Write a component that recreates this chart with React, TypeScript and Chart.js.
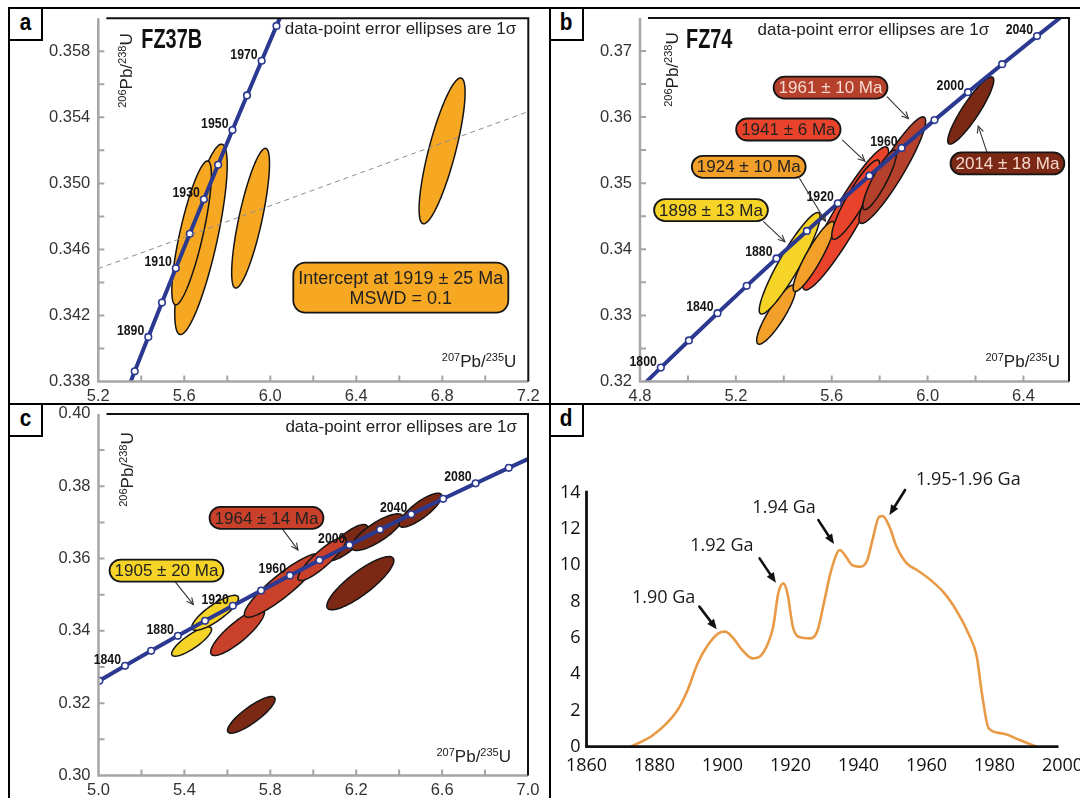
import React, { useEffect, useRef } from "react";
import { Chart, registerables } from "chart.js";
Chart.register(...registerables);

/* ================= DATA ================= */
/* Panel a – FZ37B : concordia markers (every 10 Ma) */
const concA_age = [1870, 1880, 1890, 1900, 1910, 1920, 1930, 1940, 1950, 1960, 1970, 1980, 1990];
const concA_x = [5.3071, 5.3695, 5.4325, 5.4962, 5.5605, 5.6254, 5.691, 5.7572, 5.8241, 5.8916, 5.9598, 6.0287, 6.0983];
const concA_y = [0.33654, 0.33862, 0.3407, 0.34278, 0.34486, 0.34695, 0.34904, 0.35113, 0.35323, 0.35533, 0.35743, 0.35954, 0.36165];
const concA_lab = [1890, 1910, 1930, 1950, 1970];
/* error ellipses: centre, 1σ x, 1σ y, correlation */
const ellA_cx = [5.6776, 5.634, 5.9083, 6.799];
const ellA_cy = [0.34661, 0.347, 0.34789, 0.35197];
const ellA_sx = [0.122, 0.092, 0.088, 0.107];
const ellA_sy = [0.005767, 0.00436, 0.004234, 0.004416];
const ellA_rho = [0.78, 0.8, 0.78, 0.8];
const ellA_g = ["or", "or", "or", "or"];
const discA_x = [5.2, 7.2];
const discA_y = [0.34484, 0.35435];
const aXTicks = [5.2, 5.4, 5.6, 5.8, 6.0, 6.2, 6.4, 6.6, 6.8, 7.0, 7.2];
const aXMajor = [5.2, 5.6, 6.0, 6.4, 6.8, 7.2];
const aYTicks = [0.338, 0.34, 0.342, 0.344, 0.346, 0.348, 0.35, 0.352, 0.354, 0.356, 0.358, 0.36];
const aYMajor = [0.338, 0.342, 0.346, 0.35, 0.354, 0.358];

/* Panel b – FZ74 : concordia markers (every 20 Ma) */
const concB_age = [1780, 1800, 1820, 1840, 1860, 1880, 1900, 1920, 1940, 1960, 1980, 2000, 2020, 2040, 2060];
const concB_x = [4.7721, 4.8869, 5.004, 5.1234, 5.2452, 5.3695, 5.4962, 5.6254, 5.7572, 5.8916, 6.0287, 6.1685, 6.3111, 6.4565, 6.6049];
const concB_y = [0.31801, 0.32211, 0.32621, 0.33033, 0.33447, 0.33862, 0.34278, 0.34695, 0.35113, 0.35533, 0.35954, 0.36377, 0.368, 0.37225, 0.37652];
const concB_lab = [1800, 1840, 1880, 1920, 1960, 2000, 2040];
const ellB_cx = [5.3685, 5.4244, 5.658, 5.525, 5.7, 5.853, 5.8, 6.18];
const ellB_cy = [0.33012, 0.33788, 0.34467, 0.3389, 0.3475, 0.35197, 0.3505, 0.36099];
const ellB_sx = [0.0817, 0.1269, 0.179, 0.086, 0.1, 0.139, 0.07, 0.096];
const ellB_sy = [0.00448, 0.00768, 0.01083, 0.00529, 0.006, 0.00806, 0.0045, 0.005085];
const ellB_rho = [0.87, 0.92, 0.93, 0.9, 0.9, 0.92, 0.88, 0.9];
const ellB_g = ["ob", "ye", "rd", "ob", "rd", "dr", "dr", "br"];
const bXTicks = [4.8, 5.0, 5.2, 5.4, 5.6, 5.8, 6.0, 6.2, 6.4];
const bXMajor = [4.8, 5.2, 5.6, 6.0, 6.4];
const bYTicks = [0.32, 0.325, 0.33, 0.335, 0.34, 0.345, 0.35, 0.355, 0.36, 0.365, 0.37, 0.375];
const bYMajor = [0.32, 0.33, 0.34, 0.35, 0.36, 0.37];

/* Panel c : concordia markers (every 20 Ma) */
const concC_age = [1800, 1820, 1840, 1860, 1880, 1900, 1920, 1940, 1960, 1980, 2000, 2020, 2040, 2060, 2080, 2100, 2120];
const concC_x = [4.8869, 5.004, 5.1234, 5.2452, 5.3695, 5.4962, 5.6254, 5.7572, 5.8916, 6.0287, 6.1685, 6.3111, 6.4565, 6.6049, 6.7561, 6.9104, 7.0677];
const concC_y = [0.32211, 0.32621, 0.33033, 0.33447, 0.33862, 0.34278, 0.34695, 0.35113, 0.35533, 0.35954, 0.36377, 0.368, 0.37225, 0.37652, 0.3808, 0.38509, 0.38939];
const concC_lab = [1840, 1880, 1920, 1960, 2000, 2040, 2080];
const ellC_cx = [6.158, 6.298, 6.4988, 6.2193, 5.7116, 5.4337, 5.543, 5.6474, 5.8562, 6.041];
const ellC_cy = [0.36442, 0.3673, 0.37337, 0.35318, 0.31677, 0.33705, 0.34498, 0.33963, 0.35254, 0.35991];
const ellC_sx = [0.0964, 0.12, 0.0996, 0.156, 0.1108, 0.093, 0.109, 0.1253, 0.1767, 0.112];
const ellC_sy = [0.00498, 0.00507, 0.0047, 0.00737, 0.00507, 0.00406, 0.00484, 0.00645, 0.00876, 0.006];
const ellC_rho = [0.8, 0.8, 0.82, 0.85, 0.85, 0.83, 0.83, 0.85, 0.9, 0.88];
const ellC_g = ["br", "br", "br", "br", "br", "ye", "ye", "rc", "rc", "rc"];
const cXTicks = [5.0, 5.2, 5.4, 5.6, 5.8, 6.0, 6.2, 6.4, 6.6, 6.8, 7.0];
const cXMajor = [5.0, 5.4, 5.8, 6.2, 6.6, 7.0];
const cYTicks = [0.3, 0.31, 0.32, 0.33, 0.34, 0.35, 0.36, 0.37, 0.38, 0.39, 0.4];
const cYMajor = [0.3, 0.32, 0.34, 0.36, 0.38, 0.4];

/* Panel d : probability density curve */
const dYears = [1873, 1879.6, 1886.7, 1889.7, 1892.7, 1895.7, 1898.8, 1900.8, 1902.8, 1905.8, 1908.8, 1910.9, 1913.4, 1914.9, 1916.4, 1917.9, 1919.1, 1920.7, 1922.4, 1926.0, 1928.0, 1930.0, 1932.0, 1934.5, 1936.0, 1938.1, 1940.6, 1942.6, 1944.1, 1946.1, 1947.1, 1949.1, 1951.2, 1954.2, 1957.2, 1961.2, 1965.3, 1969.3, 1972.3, 1974.8, 1976.3, 1978.3, 1982.4, 1987.4, 1992.4];
const dVals = [0, 0.64, 2.0, 3.1, 4.6, 5.6, 6.25, 6.34, 6.06, 5.33, 4.87, 4.96, 5.7, 6.6, 8.45, 9.0, 8.45, 6.6, 6.06, 5.97, 6.43, 8.08, 9.74, 10.84, 10.56, 10.01, 9.92, 10.29, 11.39, 12.68, 12.71, 12.13, 11.02, 10.1, 9.74, 9.19, 8.45, 7.35, 6.25, 4.96, 2.94, 1.01, 0.73, 0.37, 0];
const dXTicks = [1860, 1880, 1900, 1920, 1940, 1960, 1980, 2000];
const dYTicks = [0, 2, 4, 6, 8, 10, 12, 14];

/* ================= ANNOTATIONS (data-space anchors) ================= */
const bCallouts = [
  { text: "1961 ± 10 Ma", g: "dr", x: 5.595, y: 0.36446, ax: 5.8315, ay: 0.36305, bx: 5.92, by: 0.35978 },
  { text: "1941 ± 6 Ma", g: "rd", x: 5.419, y: 0.35812, ax: 5.645, ay: 0.3565, bx: 5.738, by: 0.35333 },
  { text: "1924 ± 10 Ma", g: "ob", x: 5.2537, y: 0.35248, ax: 5.466, ay: 0.35071, bx: 5.5735, by: 0.34427 },
  { text: "1898 ± 13 Ma", g: "ye", x: 5.0962, y: 0.34593, ax: 5.3154, ay: 0.34417, bx: 5.4043, by: 0.34115 },
  { text: "2014 ± 18 Ma", g: "br", x: 6.3331, y: 0.35298, ax: 6.2472, ay: 0.35474, bx: 6.2113, by: 0.35862 },
];
const cCallouts = [
  { text: "1905 ± 20 Ma", g: "ye", x: 5.3165, y: 0.35668, ax: 5.3582, ay: 0.35346, bx: 5.4418, by: 0.34728 },
  { text: "1964 ± 14 Ma", g: "rc", x: 5.7823, y: 0.37124, ax: 5.8562, ay: 0.3682, bx: 5.9285, by: 0.3624 },
];
const dNotes = [
  { text: "1.90 Ga", x: 1882.7, y: 8.18, ax: 1893.2, ay: 7.72, bx: 1898.3, by: 6.47 },
  { text: "1.92 Ga", x: 1899.8, y: 11.06, ax: 1910.9, ay: 10.38, bx: 1915.7, by: 9.04 },
  { text: "1.94 Ga", x: 1918.1, y: 13.14, ax: 1928.2, ay: 12.49, bx: 1932.8, by: 11.17 },
  { text: "1.95-1.96 Ga", x: 1972.3, y: 14.7, ax: 1953.7, ay: 14.15, bx: 1949.1, by: 12.77 },
];

/* ================= STYLE ================= */
const SANS = '"Liberation Sans", Arial, sans-serif';
const BLUE = "#2b3990";
const FILL: any = { or: "#f7a823", ye: "#f5d327", ob: "#f2a02a", rd: "#e9442b", dr: "#b5402c", br: "#7b2914", rc: "#c9412b" };
const LIGHT_TXT: any = { dr: "#f7d9cf", br: "#f7d9cf" };

/* ================= DRAW HELPERS ================= */
function condText(ctx: any, text: string, x: number, y: number, font: string, sx: number, align: string, color: string) {
  ctx.save();
  ctx.font = font;
  const w = ctx.measureText(text).width * sx;
  const x0 = align === "right" ? x - w : align === "center" ? x - w / 2 : x;
  ctx.translate(x0, y);
  ctx.scale(sx, 1);
  ctx.textAlign = "left";
  ctx.textBaseline = "alphabetic";
  ctx.fillStyle = color;
  ctx.fillText(text, 0, 0);
  ctx.restore();
}

function ratioTitle(ctx: any, s1: string, s2: string, x: number, y: number, vertical: boolean) {
  const main = `17px ${SANS}`;
  const sup = `11px ${SANS}`;
  const parts: any[] = [[s1, 1], ["Pb", 0], ["/", 0], [s2, 1], ["U", 0]];
  ctx.save();
  let w = 0;
  parts.forEach(([t, s]) => { ctx.font = s ? sup : main; w += ctx.measureText(t).width; });
  ctx.translate(x, y);
  if (vertical) ctx.rotate(-Math.PI / 2);
  ctx.fillStyle = "#222";
  ctx.textAlign = "left";
  ctx.textBaseline = "alphabetic";
  let cx = -w;
  parts.forEach(([t, s]) => {
    ctx.font = s ? sup : main;
    ctx.fillText(t, cx, s ? -6 : 0);
    cx += ctx.measureText(t).width;
  });
  ctx.restore();
}

function roundRect(ctx: any, x: number, y: number, w: number, h: number, r: number) {
  ctx.beginPath();
  ctx.moveTo(x + r, y);
  ctx.lineTo(x + w - r, y);
  ctx.arc(x + w - r, y + r, r, -Math.PI / 2, 0);
  ctx.lineTo(x + w, y + h - r);
  ctx.arc(x + w - r, y + h - r, r, 0, Math.PI / 2);
  ctx.lineTo(x + r, y + h);
  ctx.arc(x + r, y + h - r, r, Math.PI / 2, Math.PI);
  ctx.lineTo(x, y + r);
  ctx.arc(x + r, y + r, r, Math.PI, Math.PI * 1.5);
  ctx.closePath();
}

function pill(ctx: any, x: number, y: number, lines: string[], fill: string, color: string, font: string, padX: number, h: number, r: number, lh: number) {
  ctx.save();
  ctx.font = font;
  const w = Math.max(...lines.map((l) => ctx.measureText(l).width)) + padX * 2;
  roundRect(ctx, x - w / 2, y - h / 2, w, h, r);
  ctx.fillStyle = fill;
  ctx.fill();
  ctx.lineWidth = 1.8;
  ctx.strokeStyle = "#151515";
  ctx.stroke();
  ctx.fillStyle = color;
  ctx.textAlign = "center";
  ctx.textBaseline = "middle";
  const y0 = y - ((lines.length - 1) * lh) / 2;
  lines.forEach((l, i) => ctx.fillText(l, x, y0 + i * lh + 1));
  ctx.restore();
}

function arrow(ctx: any, x1: number, y1: number, x2: number, y2: number, color: string, width: number, head: number, filled: boolean) {
  const a = Math.atan2(y2 - y1, x2 - x1);
  ctx.save();
  ctx.strokeStyle = color;
  ctx.fillStyle = color;
  ctx.lineWidth = width;
  ctx.lineCap = "round";
  if (filled) {
    const bx = x2 - head * Math.cos(a);
    const by = y2 - head * Math.sin(a);
    ctx.beginPath(); ctx.moveTo(x1, y1); ctx.lineTo(bx, by); ctx.stroke();
    const hw = head * 0.42;
    ctx.beginPath();
    ctx.moveTo(x2, y2);
    ctx.lineTo(bx + hw * Math.sin(a), by - hw * Math.cos(a));
    ctx.lineTo(bx - hw * Math.sin(a), by + hw * Math.cos(a));
    ctx.closePath();
    ctx.fill();
  } else {
    ctx.beginPath(); ctx.moveTo(x1, y1); ctx.lineTo(x2, y2); ctx.stroke();
    ctx.beginPath();
    ctx.moveTo(x2 - head * Math.cos(a - 0.45), y2 - head * Math.sin(a - 0.45));
    ctx.lineTo(x2, y2);
    ctx.lineTo(x2 - head * Math.cos(a + 0.45), y2 - head * Math.sin(a + 0.45));
    ctx.stroke();
  }
  ctx.restore();
}

function isMajor(v: number, majors: number[]) {
  return majors.some((m) => Math.abs(m - v) < 1e-9);
}

/* ================= ISOPLOT CONCORDIA PANELS ================= */
function isoConfig(s: any) {
  const { cell, area } = s;
  const datasets: any[] = [];
  if (s.disc) {
    datasets.push({
      data: s.disc.x.map((x: number, i: number) => ({ x, y: s.disc.y[i] })),
      borderColor: "#8b8b9e", borderWidth: 1, borderDash: [5, 4], pointRadius: 0, tension: 0,
    });
  }
  datasets.push({
    data: s.conc.x.map((x: number, i: number) => ({ x, y: s.conc.y[i] })),
    borderColor: BLUE, borderWidth: 4, tension: 0,
    pointRadius: 3.3, pointBackgroundColor: "#ffffff", pointBorderColor: BLUE, pointBorderWidth: 1.6,
  });

  const plugin = {
    id: "iso",
    beforeDatasetsDraw(chart: any) {
      const { ctx, chartArea: ca } = chart;
      const xs = chart.scales.x, ys = chart.scales.y;
      ctx.save();
      ctx.beginPath();
      ctx.rect(ca.left, ca.top, ca.right - ca.left, ca.bottom - ca.top);
      ctx.clip();
      s.ell.cx.forEach((cx: number, i: number) => {
        const cy = s.ell.cy[i], sx = s.ell.sx[i], sy = s.ell.sy[i], rho = s.ell.rho[i];
        const k = Math.sqrt(1 - rho * rho);
        ctx.beginPath();
        for (let j = 0; j <= 90; j++) {
          const t = (j / 90) * Math.PI * 2;
          const X = xs.getPixelForValue(cx + sx * Math.cos(t));
          const Y = ys.getPixelForValue(cy + sy * (rho * Math.cos(t) + k * Math.sin(t)));
          if (j === 0) ctx.moveTo(X, Y); else ctx.lineTo(X, Y);
        }
        ctx.closePath();
        ctx.fillStyle = FILL[s.ell.g[i]];
        ctx.fill();
        ctx.lineWidth = 1.5;
        ctx.strokeStyle = "#141414";
        ctx.stroke();
      });
      ctx.restore();
    },
    afterDatasetsDraw(chart: any) {
      const { ctx, chartArea: ca } = chart;
      const xs = chart.scales.x, ys = chart.scales.y;
      // frame
      ctx.save();
      ctx.lineCap = "butt";
      ctx.strokeStyle = "#a5a5a5";
      ctx.lineWidth = 2.5;
      ctx.beginPath();
      ctx.moveTo(ca.left, ca.top);
      ctx.lineTo(ca.left, ca.bottom);
      ctx.lineTo(ca.right, ca.bottom);
      ctx.stroke();
      ctx.lineWidth = 2;
      ctx.beginPath();
      xs.ticks.forEach((t: any) => {
        const p = xs.getPixelForValue(t.value);
        if (p < ca.left + 2 || p > ca.right - 2) return;
        ctx.moveTo(p, ca.bottom);
        ctx.lineTo(p, ca.bottom - 6);
      });
      ys.ticks.forEach((t: any) => {
        const p = ys.getPixelForValue(t.value);
        if (p < ca.top + 2 || p > ca.bottom - 2) return;
        ctx.moveTo(ca.left, p);
        ctx.lineTo(ca.left + 6, p);
      });
      ctx.stroke();
      ctx.strokeStyle = "#111";
      ctx.lineWidth = 2;
      ctx.beginPath();
      ctx.moveTo(ca.left + 8, ca.top);
      ctx.lineTo(ca.right, ca.top);
      ctx.lineTo(ca.right, ca.bottom);
      ctx.stroke();
      ctx.restore();

      // concordia age labels
      s.conc.lab.forEach((age: number) => {
        const i = s.conc.age.indexOf(age);
        const mx = xs.getPixelForValue(s.conc.x[i]);
        const my = ys.getPixelForValue(s.conc.y[i]);
        condText(ctx, String(age), mx - 4, my - 2, `bold 15px ${SANS}`, 0.82, "right", "#151515");
      });

      // callouts
      (s.callouts || []).forEach((c: any) => {
        arrow(ctx, xs.getPixelForValue(c.ax), ys.getPixelForValue(c.ay), xs.getPixelForValue(c.bx), ys.getPixelForValue(c.by), "#333", 1.1, 7, false);
      });
      (s.callouts || []).forEach((c: any) => {
        pill(ctx, xs.getPixelForValue(c.x), ys.getPixelForValue(c.y), [c.text], FILL[c.g], LIGHT_TXT[c.g] || "#222", `17px ${SANS}`, 5, 22, 11, 0);
      });
      if (s.intercept) {
        const it = s.intercept;
        pill(ctx, xs.getPixelForValue(it.x), ys.getPixelForValue(it.y), it.lines, FILL.or, "#222", `18px ${SANS}`, 5, 50, 12, 20);
      }

      // texts
      ctx.save();
      ctx.font = `17px ${SANS}`;
      ctx.fillStyle = "#222";
      ctx.textBaseline = "alphabetic";
      if (s.noteAlign === "left") {
        ctx.textAlign = "left";
        ctx.fillText("data-point error ellipses are 1σ", ca.left + s.noteDx, ca.top + s.noteDy);
      } else {
        ctx.textAlign = "right";
        ctx.fillText("data-point error ellipses are 1σ", ca.right - s.noteDx, ca.top + s.noteDy);
      }
      ctx.restore();
      if (s.title) condText(ctx, s.title, ca.left + s.titleDx, ca.top + 30, `bold 28px ${SANS}`, 0.71, "left", "#111");
      ratioTitle(ctx, "207", "235", ca.right - s.xtDx, ca.bottom - s.xtDy, false);
      ratioTitle(ctx, "206", "238", ca.left + s.ytDx, ca.top + s.ytDy, true);
    },
  };

  const tickFont = { family: SANS, size: 16.5 };
  return {
    type: "line",
    data: { datasets },
    options: {
      animation: false,
      responsive: false,
      events: [],
      plugins: { legend: { display: false }, tooltip: { enabled: false }, title: { display: false } },
      layout: { padding: { left: 0, top: area.t - cell.y, right: cell.x + cell.w - area.r, bottom: 0 } },
      scales: {
        x: {
          type: "linear", min: s.xMin, max: s.xMax,
          afterBuildTicks: (sc: any) => { sc.ticks = s.xTicks.map((v: number) => ({ value: v })); },
          afterFit: (sc: any) => { sc.height = cell.y + cell.h - area.b; },
          grid: { display: false, drawTicks: false }, border: { display: false },
          ticks: {
            autoSkip: false, maxRotation: 0, minRotation: 0, padding: 5, color: "#333", font: tickFont,
            callback: (v: number) => (isMajor(v, s.xMajor) ? v.toFixed(1) : ""),
          },
        },
        y: {
          type: "linear", min: s.yMin, max: s.yMax,
          afterBuildTicks: (sc: any) => { sc.ticks = s.yTicks.map((v: number) => ({ value: v })); },
          afterFit: (sc: any) => { sc.width = area.l - cell.x; },
          grid: { display: false, drawTicks: false }, border: { display: false },
          ticks: {
            autoSkip: false, padding: 8, color: "#333", font: tickFont,
            callback: (v: number) => (isMajor(v, s.yMajor) ? v.toFixed(s.yDec) : ""),
          },
        },
      },
    },
    plugins: [plugin],
  };
}

/* ================= PANEL d ================= */
function dConfig(cell: any, area: any) {
  const plugin = {
    id: "pdf",
    afterDatasetsDraw(chart: any) {
      const { ctx, chartArea: ca } = chart;
      const xs = chart.scales.x, ys = chart.scales.y;
      ctx.save();
      ctx.strokeStyle = "#111";
      ctx.lineWidth = 2.8;
      ctx.beginPath();
      ctx.moveTo(ca.left, ca.top - 2);
      ctx.lineTo(ca.left, ca.bottom);
      ctx.lineTo(xs.getPixelForValue(2000) - 4, ca.bottom);
      ctx.stroke();
      ctx.restore();
      dNotes.forEach((n) => {
        arrow(ctx, xs.getPixelForValue(n.ax), ys.getPixelForValue(n.ay), xs.getPixelForValue(n.bx), ys.getPixelForValue(n.by), "#111", 2.6, 10, true);
        ctx.save();
        ctx.font = `18px "Open Sans", "Noto Sans", sans-serif`;
        ctx.fillStyle = "#1a1a1a";
        ctx.textAlign = "center";
        ctx.textBaseline = "middle";
        ctx.fillText(n.text, xs.getPixelForValue(n.x), ys.getPixelForValue(n.y));
        ctx.restore();
      });
    },
  };
  const tickFont = { family: '"Open Sans", "Noto Sans", sans-serif', size: 18 };
  return {
    type: "line",
    data: {
      datasets: [{
        data: dYears.map((x, i) => ({ x, y: dVals[i] })),
        borderColor: "#e99a47", borderWidth: 2.6, pointRadius: 0, cubicInterpolationMode: "monotone", fill: false,
      }],
    },
    options: {
      animation: false, responsive: false, events: [],
      plugins: { legend: { display: false }, tooltip: { enabled: false } },
      layout: { padding: { left: 0, top: area.t - cell.y, right: cell.x + cell.w - area.r, bottom: 0 } },
      scales: {
        x: {
          type: "linear", min: 1860, max: 2000,
          afterBuildTicks: (sc: any) => { sc.ticks = dXTicks.map((v) => ({ value: v })); },
          afterFit: (sc: any) => { sc.height = cell.y + cell.h - area.b; },
          grid: { display: false, drawTicks: false }, border: { display: false },
          ticks: { autoSkip: false, maxRotation: 0, padding: 8, color: "#111", font: tickFont, callback: (v: number) => String(v) },
        },
        y: {
          type: "linear", min: 0, max: 14,
          afterBuildTicks: (sc: any) => { sc.ticks = dYTicks.map((v) => ({ value: v })); },
          afterFit: (sc: any) => { sc.width = area.l - cell.x; },
          grid: { display: false, drawTicks: false }, border: { display: false },
          ticks: { autoSkip: false, padding: 6, color: "#111", font: tickFont, callback: (v: number) => String(v) },
        },
      },
    },
    plugins: [plugin],
  };
}

/* ================= LAYOUT ================= */
const cellA = { x: 10, y: 0, w: 539, h: 404 };
const areaA = { l: 98.3, t: 18.3, r: 528.3, b: 381.5 };
const cellB = { x: 551, y: 0, w: 529, h: 404 };
const areaB = { l: 640, t: 17.3, r: 1069, b: 381.5 };
const cellC = { x: 10, y: 396, w: 539, h: 402 };
const areaC = { l: 98.5, t: 413.3, r: 528, b: 775.5 };
const cellD = { x: 551, y: 406, w: 560, h: 392 };
const areaD = { l: 586.5, t: 492.7, r: 1062.5, b: 746.7 };

const specA = {
  cell: cellA, area: areaA, xMin: 5.2, xMax: 7.2, yMin: 0.338, yMax: 0.36,
  xTicks: aXTicks, xMajor: aXMajor, yTicks: aYTicks, yMajor: aYMajor, yDec: 3,
  conc: { age: concA_age, x: concA_x, y: concA_y, lab: concA_lab },
  ell: { cx: ellA_cx, cy: ellA_cy, sx: ellA_sx, sy: ellA_sy, rho: ellA_rho, g: ellA_g },
  disc: { x: discA_x, y: discA_y },
  intercept: { x: 6.607, y: 0.34369, lines: ["Intercept at 1919 ± 25 Ma", "MSWD = 0.1"] },
  title: "FZ37B", titleDx: 43,
  noteAlign: "right", noteDx: 12, noteDy: 16,
  xtDx: 12, xtDy: 15, ytDx: 34, ytDy: 15,
};
const specB = {
  cell: cellB, area: areaB, xMin: 4.8, xMax: 6.59, yMin: 0.32, yMax: 0.375,
  xTicks: bXTicks, xMajor: bXMajor, yTicks: bYTicks, yMajor: bYMajor, yDec: 2,
  conc: { age: concB_age, x: concB_x, y: concB_y, lab: concB_lab },
  ell: { cx: ellB_cx, cy: ellB_cy, sx: ellB_sx, sy: ellB_sy, rho: ellB_rho, g: ellB_g },
  callouts: bCallouts,
  title: "FZ74", titleDx: 46,
  noteAlign: "left", noteDx: 117.6, noteDy: 17,
  xtDx: 9, xtDy: 15, ytDx: 37.5, ytDy: 14.4,
};
const specC = {
  cell: cellC, area: areaC, xMin: 5.0, xMax: 7.0, yMin: 0.3, yMax: 0.4,
  xTicks: cXTicks, xMajor: cXMajor, yTicks: cYTicks, yMajor: cYMajor, yDec: 2,
  conc: { age: concC_age, x: concC_x, y: concC_y, lab: concC_lab },
  ell: { cx: ellC_cx, cy: ellC_cy, sx: ellC_sx, sy: ellC_sy, rho: ellC_rho, g: ellC_g },
  callouts: cCallouts,
  noteAlign: "right", noteDx: 11, noteDy: 17.7,
  xtDx: 17, xtDy: 14, ytDx: 34, ytDy: 18.4,
};

function ChartBox({ cell, make }: any) {
  const ref = useRef<HTMLCanvasElement>(null);
  useEffect(() => {
    const chart = new Chart(ref.current as any, make() as any);
    return () => chart.destroy();
  }, []);
  return (
    <canvas
      ref={ref}
      width={cell.w}
      height={cell.h}
      style={{ position: "absolute", left: cell.x, top: cell.y, width: cell.w, height: cell.h }}
    />
  );
}

function LetterBox({ left, top, letter }: any) {
  return (
    <div
      style={{
        position: "absolute", left, top, width: 35, height: 34, boxSizing: "border-box",
        border: "2px solid #000", background: "#fff", display: "flex", alignItems: "center", justifyContent: "center",
      }}
    >
      <span style={{ fontFamily: SANS, fontWeight: 700, fontSize: 23, lineHeight: 1, transform: "scaleX(0.9)", marginTop: -3, color: "#000" }}>
        {letter}
      </span>
    </div>
  );
}

const line = (l: number, t: number, w: number, h: number) => (
  <div style={{ position: "absolute", left: l, top: t, width: w, height: h, background: "#000" }} />
);

export default function App() {
  return (
    <div style={{ position: "absolute", left: 0, top: 0, width: 1080, height: 798, background: "#fff", overflow: "hidden" }}>
      <ChartBox cell={cellA} make={() => isoConfig(specA)} />
      <ChartBox cell={cellB} make={() => isoConfig(specB)} />
      <ChartBox cell={cellC} make={() => isoConfig(specC)} />
      <ChartBox cell={cellD} make={() => dConfig(cellD, areaD)} />
      {line(8, 7, 1072, 2)}
      {line(8, 7, 2, 791)}
      {line(549, 7, 2, 791)}
      {line(8, 403, 1072, 2)}
      <LetterBox left={8} top={7} letter="a" />
      <LetterBox left={549} top={7} letter="b" />
      <LetterBox left={8} top={403} letter="c" />
      <LetterBox left={549} top={403} letter="d" />
    </div>
  );
}
